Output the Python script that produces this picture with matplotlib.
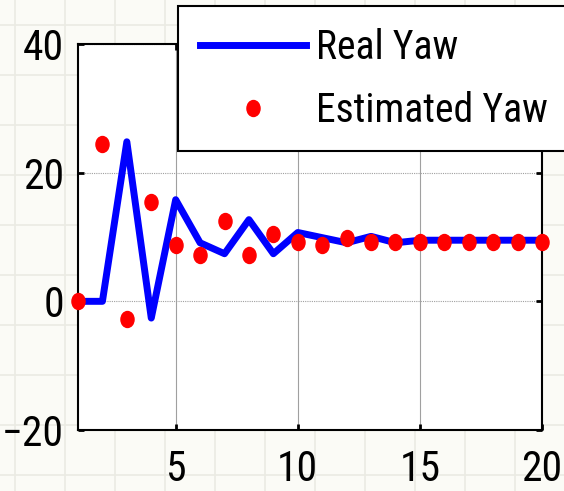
import matplotlib
matplotlib.use("Agg")
import matplotlib.pyplot as plt
from matplotlib.lines import Line2D
from matplotlib.path import Path
from matplotlib.transforms import Affine2D

# data
steps = list(range(1, 21))
real_yaw = [0, 0, 24.8, -2.6, 15.8, 9.1, 7.4, 12.7, 7.4, 10.7,
            9.9, 9.1, 10.1, 9.1, 9.5, 9.5, 9.5, 9.5, 9.5, 9.5]
est_yaw = [0, 24.5, -2.8, 15.5, 8.8, 7.2, 12.5, 7.2, 10.4, 9.3,
           8.7, 9.8, 9.3, 9.3, 9.3, 9.3, 9.3, 9.3, 9.3, 9.3]
x_ticks = [5, 10, 15, 20]
y_ticks = [-20, 0, 20, 40]

# narrow grotesque, closest thing to Arial Narrow here
plt.rcParams["font.family"] = ["Roboto Condensed", "Liberation Sans", "DejaVu Sans"]

W, H = 564, 491
fig = plt.figure(figsize=(W / 100, H / 100), dpi=100)
fig.patch.set_facecolor("#fbfbf6")

# faint paper grid behind the figure
for px in range(15, W, 50):
    fig.add_artist(Line2D([px / W, px / W], [0, 1], transform=fig.transFigure,
                          color="#ebebe3", lw=1.2, zorder=-5))
for py in range(25, H, 50):
    fig.add_artist(Line2D([0, 1], [1 - py / H, 1 - py / H], transform=fig.transFigure,
                          color="#ebebe3", lw=1.2, zorder=-5))

ax = fig.add_axes([78 / W, 1 - 430 / H, (542 - 78) / W, (430 - 44) / H])
ax.set_facecolor("white")

dot = Path.unit_circle().transformed(Affine2D().scale(0.82, 1.0))

ax.plot(steps, real_yaw, color="#0000ff", lw=5, label="Real Yaw", zorder=3)
ax.plot(steps, est_yaw, ls="none", marker=dot, ms=11.5, color="#ff0000",
        mec="#ff0000", label="Estimated Yaw", zorder=4, clip_on=False)

ax.set_xlim(1, 20)
ax.set_ylim(-20, 40)
ax.set_xticks(x_ticks)
ax.set_yticks(y_ticks)

ax.xaxis.grid(True, color="#a0a0a0", lw=0.8, ls="-")
ax.yaxis.grid(True, color="#a0a0a0", lw=0.8, ls=(0, (1, 1)))
ax.set_axisbelow(True)

for s in ax.spines.values():
    s.set_linewidth(1.5)
    s.set_color("black")

ax.tick_params(direction="in", length=4, width=2, labelsize=30,
               top=True, right=True, colors="black")
ax.tick_params(axis="x", pad=14)
ax.tick_params(axis="y", pad=10)

leg = fig.legend(loc="upper left", bbox_to_anchor=(178 / W, 1 - 6 / H),
                 fontsize=28.5, frameon=True, fancybox=False, framealpha=1,
                 edgecolor="black", borderpad=0.55, borderaxespad=0,
                 handlelength=2.68, handletextpad=0.25, labelspacing=0.6,
                 numpoints=1)
leg.get_frame().set_linewidth(1.5)
leg.set_zorder(10)

fig.savefig("out.png", dpi=100, facecolor=fig.get_facecolor())
